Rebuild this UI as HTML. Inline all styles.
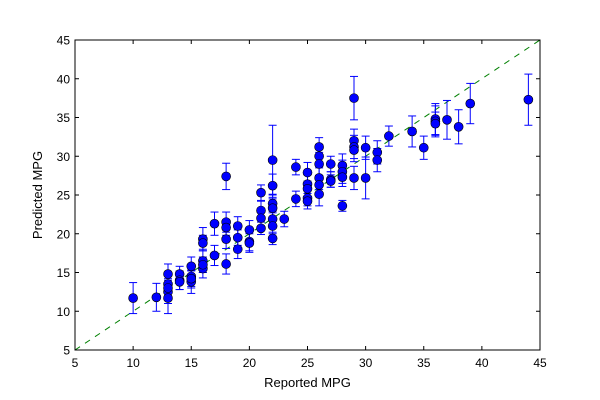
<!DOCTYPE html>
<html><head><meta charset="utf-8"><style>
body{margin:0;background:#fff;}
svg{display:block;font-family:"Liberation Sans",sans-serif;}
</style></head><body>
<svg id="chart" width="600" height="400" viewBox="0 0 600 400" xmlns="http://www.w3.org/2000/svg">
<rect width="600" height="400" fill="#fff"/>
<g id="plot"></g>
<rect x="75" y="40" width="465" height="310" fill="none" stroke="#000" stroke-width="1"/>
<text x="307.5" y="387" text-anchor="middle" font-size="13">Reported MPG</text>
<text transform="translate(42,195) rotate(-90)" text-anchor="middle" font-size="13">Predicted MPG</text>
</svg>
<script>
const xTicks=[5,10,15,20,25,30,35,40,45];
const yTicks=[5,10,15,20,25,30,35,40,45];
const reported=[10,12,13,13,13,13,13,14,14,14,15,15,15,15,16,16,16,16,16,17,17,18,18,18,18,18,19,19,19,20,20,20,21,21,21,21,22,22,22,22,22,22,22,23,24,24,25,25,25,25,25,26,26,26,26,26,26,27,27,27,28,28,28,28,29,29,29,29,29,30,30,31,31,32,34,35,36,36,36,37,38,39,44];
const predicted=[11.7,11.8,14.8,13.5,12.5,11.7,13,14.8,14,13.8,15.8,14.5,13.8,14.2,19.3,18.8,16.5,15.5,16,21.3,17.2,27.4,21.5,20.8,19.3,16.1,21,19.5,18,20.5,19,18.8,25.3,23,22,20.7,29.5,26.2,23.9,23.3,21.9,21,19.4,21.9,28.6,24.5,27.9,26.4,25.8,24.6,24.2,31.2,30,29,27.2,26.3,25.1,29,27,26.8,28.8,28,27.3,23.6,37.5,32,31.2,30.8,27.2,31.1,27.2,30.5,29.5,32.6,33.2,31.1,34.8,34.5,34.2,34.7,33.8,36.8,37.3];
const errors=[2,1.8,1.3,1.5,1.5,2,1.2,1,1.2,1,1.2,1.5,1.5,1,1.5,1,1.5,1.2,1,1.5,1.3,1.7,1.3,1,1.2,1.3,1.2,1,1.2,1.2,1.2,1.2,1,1.2,1,0.8,4.5,1.5,1.2,1.2,1,1,0.8,1,1,1,1.3,1.2,1,1,1,1.2,1.5,1.5,1.5,1.2,1.5,1,1,0.8,1.5,1.5,1.2,0.7,2.8,1.5,1.5,1.5,1.5,1.5,2.7,1.5,1.5,1.3,2,1.5,2,2,1.5,2.5,2.2,2.6,3.3];
const X0=75,X1=540,Y0=350,Y1=40;
const xs=v=>X0+(v-5)/40*(X1-X0);
const ys=v=>Y0-(v-5)/40*(Y0-Y1);
const NS="http://www.w3.org/2000/svg";
const g=document.getElementById('plot');
function mk(t,a,p){const e=document.createElementNS(NS,t);for(const k in a)e.setAttribute(k,a[k]);(p||g).appendChild(e);return e;}
// diagonal
const d=mk('line',{x1:xs(5),y1:ys(5),x2:xs(45),y2:ys(45),stroke:'#008000','stroke-dasharray':'6,6','stroke-width':1});


// ticks
xTicks.forEach(t=>{
 const x=xs(t);
 mk('line',{x1:x,y1:Y0,x2:x,y2:Y0-4,stroke:'#000'});
 mk('line',{x1:x,y1:Y1,x2:x,y2:Y1+4,stroke:'#000'});
 const tx=mk('text',{x:x,y:Y0+17,'text-anchor':'middle','font-size':12});
 tx.textContent=t;
 
 
});
yTicks.forEach(t=>{
 const y=ys(t);
 mk('line',{x1:X0,y1:y,x2:X0+4,y2:y,stroke:'#000'});
 mk('line',{x1:X1,y1:y,x2:X1-4,y2:y,stroke:'#000'});
 const tx=mk('text',{x:X0-5,y:y+4.5,'text-anchor':'end','font-size':12});
 tx.textContent=t;
 
 
});
// error bars
reported.forEach((r,i)=>{
 const x=xs(r),yt=ys(predicted[i]+errors[i]),yb=ys(predicted[i]-errors[i]);
 const eg=mk('g',{stroke:'#0000ff','stroke-width':1});
 
 
 mk('line',{x1:x,y1:yt,x2:x,y2:yb},eg);
 mk('line',{x1:x-4,y1:yt,x2:x+4,y2:yt},eg);
 mk('line',{x1:x-4,y1:yb,x2:x+4,y2:yb},eg);
});
reported.forEach((r,i)=>{
 const c=mk('circle',{cx:xs(r),cy:ys(predicted[i]),r:4.5,fill:'#0000ff',stroke:'#000','stroke-width':0.6});
 
 
});
</script>
</body></html>
